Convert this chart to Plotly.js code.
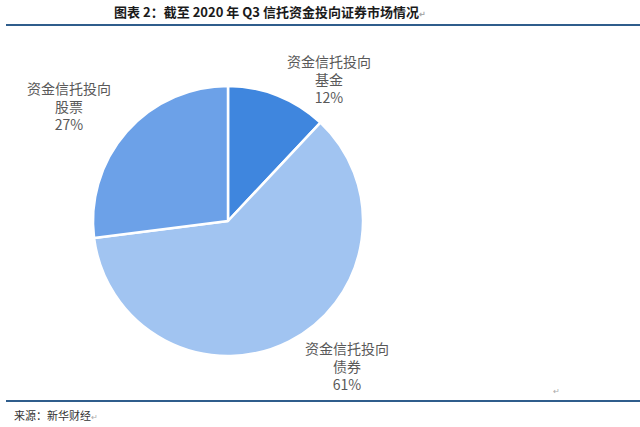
<!DOCTYPE html>
<html>
<head>
<meta charset="utf-8">
<script src="https://cdn.plot.ly/plotly-3.0.1.min.js"></script>
<style>
  html, body { margin: 0; padding: 0; background: #fff; }
  #chart { width: 640px; height: 427px; }
</style>
</head>
<body>
<div id="chart"></div>
<script>
// 数据：截至 2020 年 Q3 信托资金投向证券市场
var categories = ['基金', '债券', '股票'];
var shares = [12, 61, 27];
var colors = ['#3f86de', '#a1c4f1', '#6ca1e8'];
var prefix = '资金信托投向';

// 标签位置 (paper 坐标)
var labelPos = [
    { x: 329 / 640, y: 1 - 79 / 427 },
    { x: 347 / 640, y: 1 - 366 / 427 },
    { x: 69 / 640, y: 1 - 106 / 427 }
];

var cjk = '"Noto Sans CJK SC", "Noto Sans", sans-serif';
var mark = '<span style="font-size:8px;color:#aaaaaa">↵</span>';

var trace = {
    type: 'pie',
    labels: categories,
    values: shares,
    sort: false,
    direction: 'clockwise',
    rotation: 0,
    textinfo: 'none',
    hoverinfo: 'label+percent',
    marker: { colors: colors, line: { color: '#ffffff', width: 2.5 } },
    domain: { x: [93 / 640, 363 / 640], y: [71 / 427, 341 / 427] },
    showlegend: false
};

var annotations = categories.map(function (c, i) {
    return {
        xref: 'paper', yref: 'paper',
        x: labelPos[i].x, y: labelPos[i].y,
        xanchor: 'center', yanchor: 'middle',
        text: prefix + '<br>' + c + '<br>' + shares[i] + '%',
        showarrow: false,
        align: 'center',
        font: { family: cjk, size: 14, color: '#595959' }
    };
});

// 来源
annotations.push({
    xref: 'paper', yref: 'paper',
    x: 12 / 640, y: 1 - 415 / 427,
    xanchor: 'left', yanchor: 'middle',
    text: '来源：新华财经' + mark,
    showarrow: false,
    font: { family: cjk, size: 11, color: '#333333' }
});

annotations.push({
    xref: 'paper', yref: 'paper',
    x: 556 / 640, y: 1 - 390 / 427,
    xanchor: 'center', yanchor: 'middle',
    text: mark,
    showarrow: false
});

var layout = {
    width: 640,
    height: 427,
    margin: { l: 0, r: 0, t: 0, b: 0 },
    paper_bgcolor: '#ffffff',
    title: {
        text: '图表 2：截至 2020 年 Q3 信托资金投向证券市场情况' + mark,
        x: 270 / 640,
        xanchor: 'center',
        y: 1 - 12 / 427,
        yanchor: 'middle',
        font: { family: cjk, size: 13, color: '#1a1a1a', weight: 'bold' }
    },
    shapes: [
        { type: 'line', xref: 'paper', yref: 'paper', x0: 6 / 640, x1: 1, y0: 1 - 25 / 427, y1: 1 - 25 / 427,
          line: { color: '#2f5d8c', width: 2 } },
        { type: 'line', xref: 'paper', yref: 'paper', x0: 6 / 640, x1: 1, y0: 1 - 401 / 427, y1: 1 - 401 / 427,
          line: { color: '#2f5d8c', width: 2 } }
    ],
    annotations: annotations
};

Plotly.newPlot('chart', [trace], layout, { displayModeBar: false, staticPlot: true });
</script>
</body>
</html>
